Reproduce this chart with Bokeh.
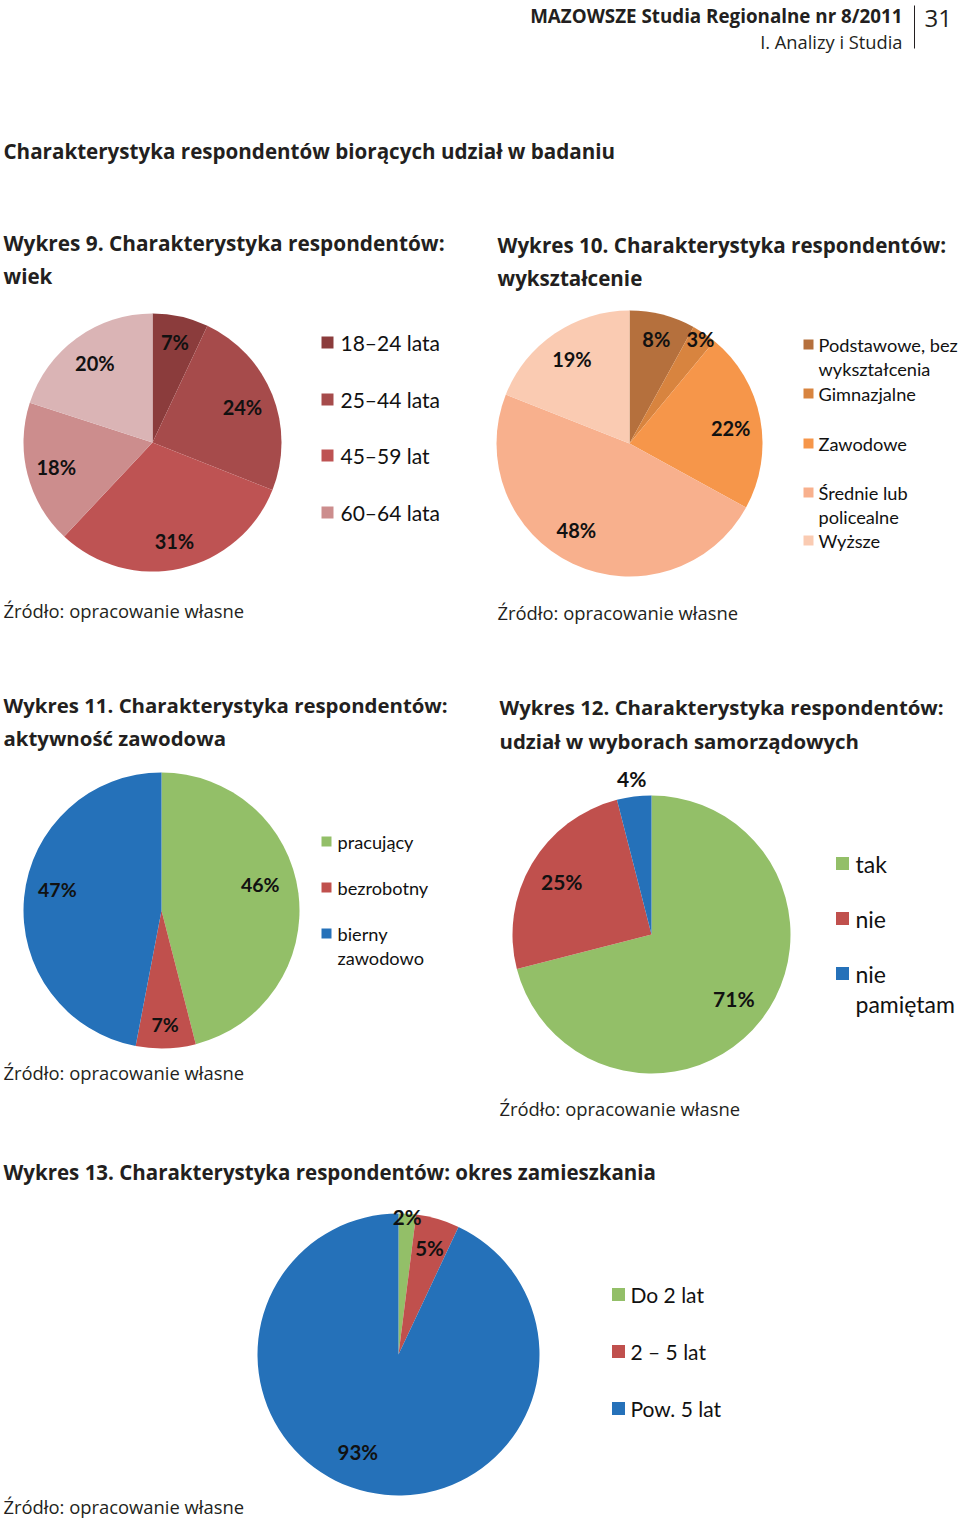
import numpy as np
from bokeh.plotting import figure
from bokeh.models import Range1d, ColumnDataSource
from bokeh.core.properties import value
from bokeh.embed import file_html
from bokeh.resources import INLINE

# ---------------- data ----------------
age_legend = ["18–24 lata", "25–44 lata", "45–59 lat", "60–64 lata"]
age_values = [7, 24, 31, 18, 20]
age_colors = ["#8B3C3C", "#A64B4B", "#BE5353", "#CC8D8D", "#DAB4B5"]

edu_legend = ["Podstawowe, bez\nwykształcenia", "Gimnazjalne", "Zawodowe",
              "Średnie lub\npolicealne", "Wyższe"]
edu_values = [8, 3, 22, 48, 19]
edu_colors = ["#B5703D", "#D8843F", "#F6964A", "#F8B08D", "#FACBB2"]

work_legend = ["pracujący", "bezrobotny", "bierny\nzawodowo"]
work_values = [46, 7, 47]

vote_legend = ["tak", "nie", "nie\npamiętam"]
vote_values = [71, 25, 4]

stay_legend = ["Do 2 lat", "2 – 5 lat", "Pow. 5 lat"]
stay_values = [2, 5, 93]

trio_colors = ["#93BF68", "#C0504D", "#2571B9"]

# ---------------- layout ----------------
W, H = 960, 1522
TXT = "#231F20"
HEAD_FONT = value("Open Sans")
PIE_FONT = value("Lato")

p = figure(width=W, height=H, output_backend="svg", toolbar_location=None,
           x_range=Range1d(0, W), y_range=Range1d(-H, 0),
           min_border=0, outline_line_color=None)
p.axis.visible = False
p.grid.visible = False
p.background_fill_color = "white"
p.border_fill_color = "white"


def Y(v):
    return -v


def pie(vals, colors, cx, cy, r, factors, lab_size, shifts=None):
    v = np.array(vals, dtype=float)
    frac = v / v.sum()
    ends = np.cumsum(frac)
    starts = ends - frac
    src = ColumnDataSource(dict(
        x=[cx] * len(v), y=[Y(cy)] * len(v),
        start=np.pi / 2 - 2 * np.pi * starts,
        end=np.pi / 2 - 2 * np.pi * ends,
        color=colors[:len(v)]))
    p.wedge(x="x", y="y", radius=r, radius_units="screen",
            start_angle="start", end_angle="end", direction="clock",
            fill_color="color", line_color=None, source=src)
    mid = 2 * np.pi * (starts + ends) / 2
    if shifts is not None:
        mid = mid + np.radians(np.array(shifts, dtype=float))
    f = np.array(factors)
    lx = cx + f * r * np.sin(mid)
    ly = cy - f * r * np.cos(mid)
    p.text(x=lx, y=[Y(t) for t in ly], text=[f"{int(a)}%" for a in vals],
           text_font=PIE_FONT, text_font_style="bold", text_font_size=lab_size,
           text_align="center", text_baseline="middle", text_color="#111111")


def legend(labels, colors, sx, tx, rows, sq, fsize, gap):
    p.scatter(x=[sx] * len(labels), y=[Y(r) for r in rows], marker="square",
              size=sq, fill_color=colors[:len(labels)], line_color=None)
    xs, ys, ts = [], [], []
    for lab, r in zip(labels, rows):
        for i, line in enumerate(lab.split("\n")):
            xs.append(tx)
            ys.append(Y(r + i * gap))
            ts.append(line)
    p.text(x=xs, y=ys, text=ts, text_font=PIE_FONT, text_font_size=fsize,
           text_align="left", text_baseline="middle", text_color="#111111")


def label(x, y, t, size, bold=False, align="left"):
    p.text(x=[x], y=[Y(y)], text=[t], text_font=HEAD_FONT,
           text_font_style="bold" if bold else "normal", text_font_size=size,
           text_align=align, text_baseline="middle", text_color=TXT)


# header
label(902, 15, "MAZOWSZE Studia Regionalne nr 8/2011", "18.8px", True, "right")
label(902, 41, "I. Analizy i Studia", "18.3px", False, "right")
label(924, 18, "31", "24px", False, "left")
p.segment(x0=[914], y0=[Y(5)], x1=[914], y1=[Y(48)], line_color=TXT, line_width=1)

label(3, 150, "Charakterystyka respondentów biorących udział w badaniu", "20.6px", True)

# chart 9
label(3, 242, "Wykres  9. Charakterystyka  respondentów:", "20.8px", True)
label(3, 275, "wiek", "20.6px", True)
pie(age_values, age_colors, 152, 442, 129, [0.8, 0.75, 0.78, 0.77, 0.76], "20px")
legend(age_legend, age_colors, 327, 340, [342, 399, 455, 512], 12, "21px", 24)
label(3, 610, "Źródło: opracowanie własne", "18.4px")

# chart 10
label(497, 244, "Wykres 10. Charakterystyka respondentów:", "20.6px", True)
label(497, 277, "wykształcenie", "20.6px", True)
pie(edu_values, edu_colors, 629, 443, 133, [0.81, 0.95, 0.77, 0.76, 0.77], "20px",
    [0, 0, 2, 6.5, 0])
legend(edu_legend, edu_colors, 808, 818, [344, 393, 443, 492, 540], 10, "18.2px", 24)
label(497, 612, "Źródło: opracowanie własne", "18.4px")

# chart 11
label(3, 704, "Wykres 11. Charakterystyka respondentów:", "20.4px", True)
label(3, 737, "aktywność zawodowa", "20.4px", True)
pie(work_values, trio_colors, 161, 910, 138, [0.74, 0.83, 0.77], "19.5px",
    [-7.5, 0, 6])
legend(work_legend, trio_colors, 326, 337, [841, 887, 933], 10, "18.2px", 24)
label(3, 1072, "Źródło: opracowanie własne", "18.4px")

# chart 12
label(499, 706, "Wykres 12. Charakterystyka respondentów:", "20.4px", True)
label(499, 740, "udział w wyborach samorządowych", "20.4px", True)
pie(vote_values, trio_colors, 651, 934, 139, [0.75, 0.75, 1.13], "21px")
legend(vote_legend, trio_colors, 842, 855, [863, 918, 973], 13, "23px", 30)
label(499, 1108, "Źródło: opracowanie własne", "18.4px")

# chart 13
label(3, 1171, "Wykres 13. Charakterystyka respondentów: okres zamieszkania", "20.5px", True)
pie(stay_values, trio_colors, 398, 1354, 141, [0.98, 0.79, 0.75], "20.5px",
    [0, 0, 10])
legend(stay_legend, trio_colors, 618, 630, [1294, 1351, 1408], 13, "21px", 30)
label(3, 1506, "Źródło: opracowanie własne", "18.4px")

open("out.html", "w").write(file_html(p, INLINE))
